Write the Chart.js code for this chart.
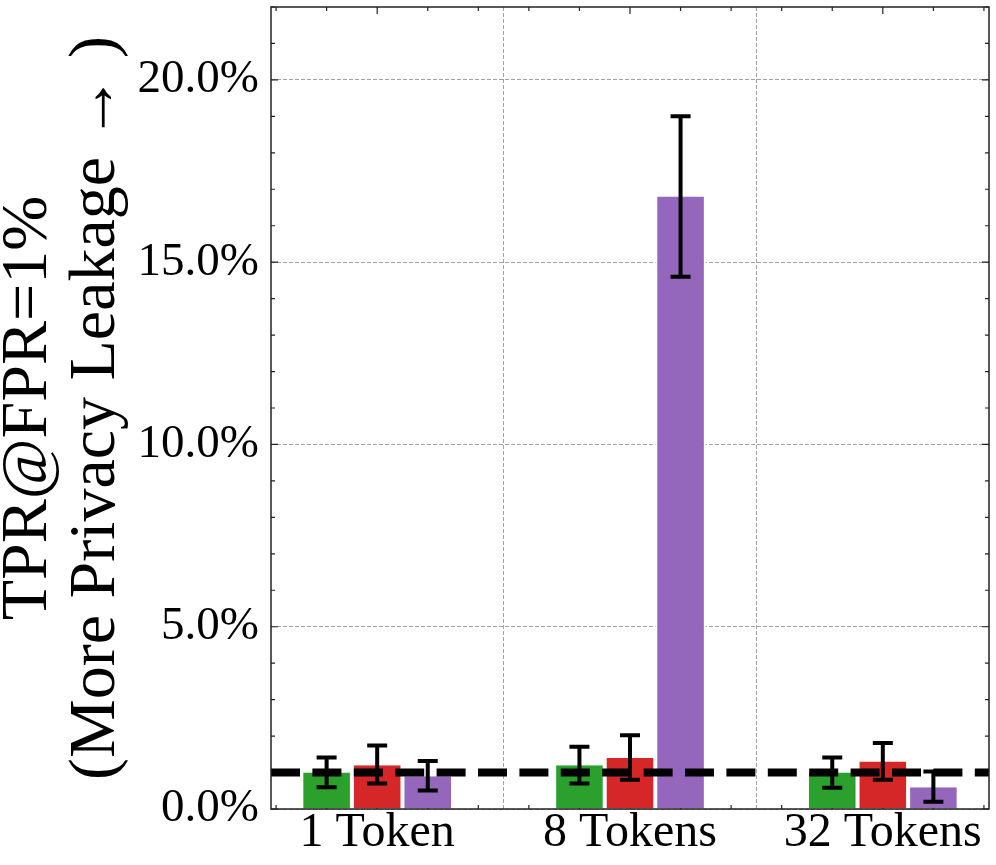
<!DOCTYPE html>
<html>
<head>
<meta charset="utf-8">
<script src="https://cdn.jsdelivr.net/npm/chart.js@4/dist/chart.umd.min.js"></script>
<style>
  html, body { margin: 0; padding: 0; background: #fff; }
  #wrap { width: 996px; height: 865px; position: relative; }
</style>
</head>
<body>
<div id="wrap"><canvas id="c"></canvas></div>
<script>
// ---- data ----
const categories = ['1 Token', '8 Tokens', '32 Tokens'];
const seriesNames = ['Series 1', 'Series 2', 'Series 3'];
const seriesColors = ['#2ca02c', '#d62728', '#9467bd'];
const greenValues = [1.0, 1.2, 1.0];
const greenErrLow = [0.6, 0.7, 0.58];
const greenErrHigh = [1.41, 1.71, 1.41];
const redValues = [1.2, 1.4, 1.3];
const redErrLow = [0.7, 0.8, 0.8];
const redErrHigh = [1.74, 2.02, 1.81];
const purpleValues = [0.9, 16.8, 0.6];
const purpleErrLow = [0.51, 14.6, 0.2];
const purpleErrHigh = [1.32, 19.0, 1.03];
const baselineValue = 1.0;
const yTickStep = 5;
const yMax = 22;

const FONT = "'Liberation Serif', serif";

const allValues = [greenValues, redValues, purpleValues];
const allLow = [greenErrLow, redErrLow, purpleErrLow];
const allHigh = [greenErrHigh, redErrHigh, purpleErrHigh];

const datasets = allValues.map((vals, s) => ({
  label: seriesNames[s],
  data: categories.map((c, i) => ({ x: i, y: vals[i] })),
  backgroundColor: seriesColors[s],
  borderColor: '#ffffff',
  borderWidth: { left: 2, right: 2, top: 0, bottom: 0 },
  borderSkipped: false,
  categoryPercentage: 0.6,
  barPercentage: 1.0,
  errLow: allLow[s],
  errHigh: allHigh[s]
}));

const decorPlugin = {
  id: 'decor',
  beforeDatasetsDraw(chart) {
    const { ctx, chartArea: a, scales: { x, y } } = chart;
    ctx.save();
    ctx.strokeStyle = '#222';
    ctx.lineWidth = 1.2;
    ctx.beginPath();
    for (let v = 0; v <= yMax; v += 1) {
      const py = y.getPixelForValue(v);
      const len = (v % yTickStep === 0) ? 7 : 4;
      ctx.moveTo(a.left, py); ctx.lineTo(a.left + len, py);
      ctx.moveTo(a.right, py); ctx.lineTo(a.right - len, py);
    }
    for (let k = -2; k <= 12; k++) {
      const v = k * 0.2;
      const px = x.getPixelForValue(v);
      if (px < a.left || px > a.right) continue;
      const len = (k % 5 === 0) ? 7 : 4;
      ctx.moveTo(px, a.bottom); ctx.lineTo(px, a.bottom - len);
      ctx.moveTo(px, a.top); ctx.lineTo(px, a.top + len);
    }
    ctx.stroke();
    ctx.restore();
  },
  afterDatasetsDraw(chart) {
    const { ctx, chartArea: a, scales: { y } } = chart;
    ctx.save();
    ctx.beginPath();
    ctx.rect(a.left, a.top, a.right - a.left, a.bottom - a.top);
    ctx.clip();
    const by = y.getPixelForValue(baselineValue);
    ctx.strokeStyle = '#000';
    ctx.lineWidth = 8;
    ctx.setLineDash([29, 12.4]);
    ctx.beginPath();
    ctx.moveTo(a.left, by);
    ctx.lineTo(a.right, by);
    ctx.stroke();
    ctx.setLineDash([]);
    ctx.lineWidth = 4;
    ctx.strokeStyle = '#000';
    chart.data.datasets.forEach((ds, di) => {
      const meta = chart.getDatasetMeta(di);
      meta.data.forEach((bar, i) => {
        const px = bar.x;
        const yl = y.getPixelForValue(ds.errLow[i]);
        const yh = y.getPixelForValue(ds.errHigh[i]);
        ctx.beginPath();
        ctx.moveTo(px, yl); ctx.lineTo(px, yh);
        ctx.moveTo(px - 10, yl); ctx.lineTo(px + 10, yl);
        ctx.moveTo(px - 10, yh); ctx.lineTo(px + 10, yh);
        ctx.stroke();
      });
    });
    ctx.restore();
  },
  afterDraw(chart) {
    const { ctx, chartArea: a } = chart;
    ctx.save();
    ctx.strokeStyle = '#222';
    ctx.lineWidth = 1.5;
    ctx.strokeRect(a.left, a.top, a.right - a.left, a.bottom - a.top);
    ctx.restore();
  }
};

new Chart(document.getElementById('c'), {
  type: 'bar',
  data: { datasets },
  options: {
    responsive: true,
    maintainAspectRatio: false,
    animation: false,
    layout: { padding: { top: 7, right: 7, left: 0, bottom: 0 } },
    plugins: { legend: { display: false }, tooltip: { enabled: false } },
    scales: {
      x: {
        type: 'linear',
        min: -0.42,
        max: 2.42,
        offset: false,
        afterFit(scale) { scale.height = 56; scale.paddingLeft = 0; scale.paddingRight = 0; },
        ticks: {
          stepSize: 1,
          includeBounds: false,
          autoSkip: false,
          maxRotation: 0,
          padding: 0,
          color: '#000',
          font: { family: FONT, size: 48, lineHeight: 1 },
          callback: (v) => Number.isInteger(v) ? categories[v] : ''
        },
        grid: { color: '#8c8c8c', lineWidth: 0.8, drawTicks: false, borderDash: [4, 2] },
        border: { display: false, dash: [4, 2] }
      },
      y: {
        min: 0,
        max: yMax,
        afterFit(scale) { scale.width = 271; scale.paddingTop = 0; scale.paddingBottom = 0; },
        ticks: {
          stepSize: yTickStep,
          includeBounds: false,
          padding: 12,
          color: '#000',
          font: { family: FONT, size: 47 },
          callback: (v) => v.toFixed(1) + '%'
        },
        grid: { color: '#8c8c8c', lineWidth: 0.8, drawTicks: false, borderDash: [4, 2] },
        border: { display: false, dash: [4, 2] },
        title: {
          display: true,
          text: ['TPR@FPR=1%', '(More Privacy Leakage \u2192 )'],
          color: '#000',
          font: { family: FONT, size: 66, lineHeight: 68 / 66 },
          padding: { top: -5, bottom: 0 }
        }
      }
    }
  },
  plugins: [decorPlugin]
});
</script>
</body>
</html>
